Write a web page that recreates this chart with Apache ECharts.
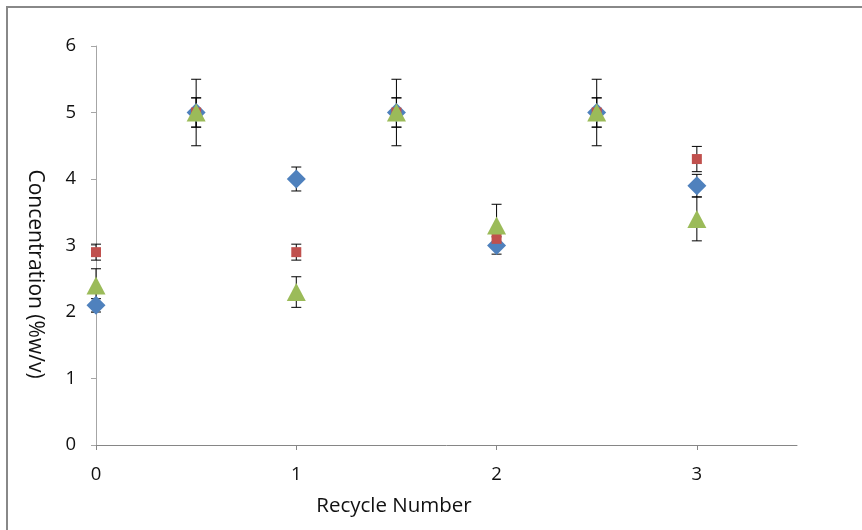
<!DOCTYPE html>
<html><head><meta charset="utf-8">
<script src="https://cdn.jsdelivr.net/npm/echarts@6/dist/echarts.min.js"></script>
<style>html,body{margin:0;padding:0;background:#fff}#c{width:862px;height:530px}</style>
</head><body><div id="c"></div>
<script>
var xValues = [0, 0.5, 1, 1.5, 2, 2.5, 3];
var blueValues = [2.1, 5.0, 4.0, 5.0, 3.0, 5.0, 3.9];
var blueErr = [0.1, 0.22, 0.18, 0.22, 0.13, 0.22, 0.17];
var redValues = [2.9, 5.0, 2.9, 5.0, 3.1, 5.0, 4.3];
var redErr = [0.12, 0.5, 0.12, 0.5, 0.12, 0.5, 0.19];
var greenValues = [2.4, 5.0, 2.3, 5.0, 3.3, 5.0, 3.4];
var greenErr = [0.25, 0.22, 0.23, 0.22, 0.32, 0.22, 0.33];
var xTicks = [0, 1, 2, 3];
var yTicks = [0, 1, 2, 3, 4, 5, 6];
var xTitle = 'Recycle Number';
var yTitle = 'Concentration (%w/v)';

function pts(v) { return xValues.map(function (x, i) { return [x, v[i]]; }); }
function errData(v, e) { return xValues.map(function (x, i) { return [x, v[i] - e[i], v[i] + e[i]]; }); }

function renderErr(params, api) {
  var x = api.value(0), lo = api.value(1), hi = api.value(2);
  var pLo = api.coord([x, lo]), pHi = api.coord([x, hi]);
  var hw = 5;
  var st = { stroke: '#000', lineWidth: 1 };
  return { type: 'group', children: [
    { type: 'line', shape: { x1: pLo[0], y1: pLo[1], x2: pHi[0], y2: pHi[1] }, style: st },
    { type: 'line', shape: { x1: pLo[0] - hw, y1: pLo[1], x2: pLo[0] + hw, y2: pLo[1] }, style: st },
    { type: 'line', shape: { x1: pHi[0] - hw, y1: pHi[1], x2: pHi[0] + hw, y2: pHi[1] }, style: st }
  ]};
}

function errSeries(v, e) {
  return { type: 'custom', renderItem: renderErr, data: errData(v, e), z: 1, silent: true,
    encode: { x: 0, y: [1, 2] } };
}

var font = 'Open Sans';
var chart = echarts.init(document.getElementById('c'), null, { renderer: 'canvas' });
chart.setOption({
  animation: false,
  backgroundColor: '#fff',
  graphic: [
    { type: 'rect', shape: { x: 7, y: 7, width: 870, height: 540 },
      style: { fill: 'none', stroke: '#888', lineWidth: 2 }, z: 0 },
    { type: 'text', x: 394, y: 506, z: 10,
      style: { text: xTitle, font: '20.5px "Open Sans"', fill: '#111', textAlign: 'center', textVerticalAlign: 'middle' } },
    { type: 'text', x: 35, y: 274, rotation: -Math.PI / 2, z: 10,
      style: { text: yTitle, font: '21px "Open Sans"', fill: '#111', textAlign: 'center', textVerticalAlign: 'middle' } }
  ],
  grid: { left: 96, right: 65, top: 46, bottom: 85, containLabel: false },
  xAxis: {
    type: 'value', min: 0, max: 3.5, interval: 1,
    axisLine: { show: true, lineStyle: { color: '#868686', width: 1 } },
    axisTick: { show: true, length: 5, lineStyle: { color: '#868686' }, customValues: xTicks },
    axisLabel: { fontFamily: font, fontSize: 18.5, color: '#111', margin: 20, customValues: xTicks },
    splitLine: { show: false }
  },
  yAxis: {
    type: 'value', min: 0, max: 6, interval: 1,
    axisLine: { show: true, lineStyle: { color: '#a6a6a6', width: 1 } },
    axisTick: { show: true, length: 5, lineStyle: { color: '#a6a6a6' }, customValues: yTicks },
    axisLabel: { fontFamily: font, fontSize: 18.5, color: '#111', margin: 20, customValues: yTicks },
    splitLine: { show: false }
  },
  series: [
    errSeries(blueValues, blueErr),
    errSeries(redValues, redErr),
    errSeries(greenValues, greenErr),
    { type: 'scatter', data: pts(blueValues), symbol: 'diamond', symbolSize: [19, 19], z: 3,
      itemStyle: { color: '#4F81BD', opacity: 1 } },
    { type: 'scatter', data: pts(redValues), symbol: 'rect', symbolSize: [10, 10], z: 4,
      itemStyle: { color: '#C0504D', opacity: 1 } },
    { type: 'scatter', data: pts(greenValues), symbol: 'triangle', symbolSize: [19, 18], z: 5,
      itemStyle: { color: '#9BBB59', opacity: 1 } }
  ]
});
</script></body></html>
